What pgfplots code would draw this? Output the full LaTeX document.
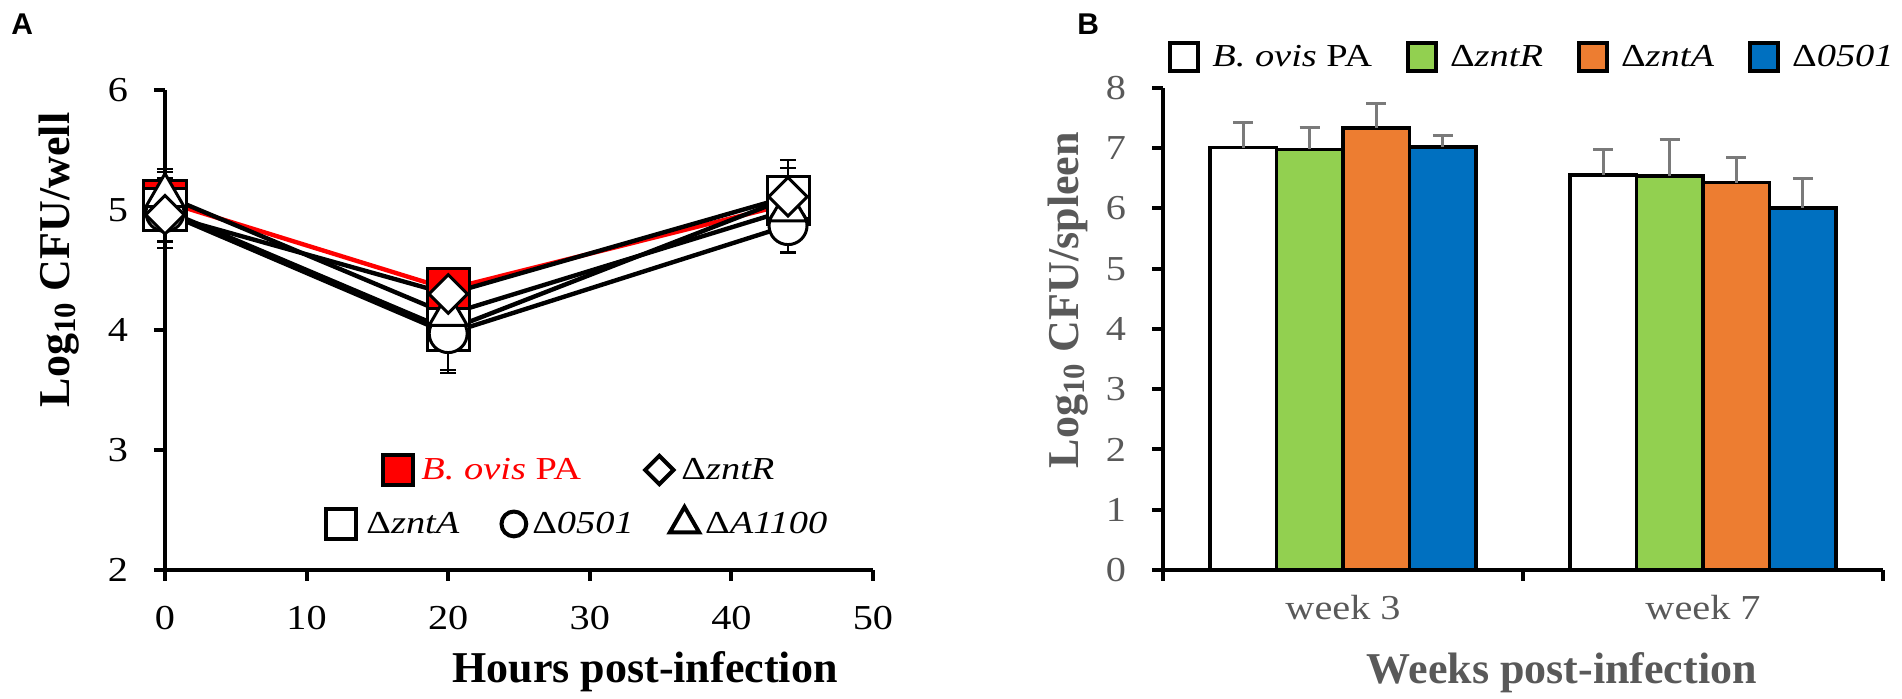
\documentclass[border=0pt]{standalone}
\usepackage{pgfplots}
\pgfplotsset{compat=1.18}
\usepackage{pgfplotstable}
\usepackage{fontspec}
\setmainfont{Liberation Serif}
\newfontfamily\tickf{Liberation Serif}[FakeStretch=1.15]
\newfontfamily\legf{Liberation Serif}[FakeStretch=1.2]
\newfontfamily\panelfont{Liberation Sans}
\definecolor{grn}{HTML}{92D050}
\definecolor{org}{HTML}{ED7D31}
\definecolor{blu}{HTML}{0070C0}
\definecolor{txtgray}{HTML}{595959}
\definecolor{errgray}{HTML}{7A7A7A}
\definecolor{pared}{HTML}{FF0000}

% Panel A: hours, log10 CFU/well, SD
\pgfplotstableread{
x y e
0 5.07 0.20
20 4.34 0.10
44 5.05 0.10
}\tPA
\pgfplotstableread{
x y e
0 4.96 0.22
20 4.30 0.10
44 5.11 0.10
}\tzntR
\pgfplotstableread{
x y e
0 5.00 0.32
20 4.00 0.33
44 5.10 0.32
}\tzntA
\pgfplotstableread{
x y e
0 4.98 0.25
20 3.97 0.33
44 4.87 0.23
}\tO
\pgfplotstableread{
x y e
0 5.12 0.22
20 4.13 0.10
44 5.00 0.35
}\tA
% Panel B: week groups at 0.5 and 1.5
\pgfplotstableread{
x y e
0.5 7.01 0.41
1.5 6.56 0.42
}\bPA
\pgfplotstableread{
x y e
0.5 6.98 0.37
1.5 6.54 0.61
}\bzntR
\pgfplotstableread{
x y e
0.5 7.34 0.40
1.5 6.43 0.42
}\bzntA
\pgfplotstableread{
x y e
0.5 7.02 0.19
1.5 6.01 0.48
}\bO

\pgfplotsset{
  common/.style={
    scale only axis,
    axis x line=bottom, axis y line=left,
    axis line style={-, line width=2pt},
    tick align=outside, major tick length=5.5pt,
    tick style={line width=2pt, black},
    ticklabel style={font=\tickf\fontsize{17.5}{20}\selectfont},
    xticklabel style={yshift=-9pt},
    yticklabel style={xshift=-9.5pt},
    /pgf/number format/assume math mode=true,
    clip=false,
  },
  aerr/.style={error bars/.cd, y dir=both, y explicit,
    error bar style={black, line width=1pt},
    error mark options={black, line width=1pt, mark size=4pt, rotate=90}},
}

\begin{document}
\begin{tikzpicture}
\path[use as bounding box] (0,0) rectangle (951pt,349.5pt);
\node[anchor=north west, inner sep=0pt, font=\panelfont\bfseries\fontsize{15}{15}\selectfont] at (5.5pt,343pt) {A};
\node[anchor=north west, inner sep=0pt, font=\panelfont\bfseries\fontsize{15}{15}\selectfont] at (538.5pt,343pt) {B};

% ---------------- Panel A ----------------
\begin{axis}[common,
  at={(82.5pt,64.5pt)}, anchor=south west,
  width=354pt, height=240pt,
  xmin=0, xmax=50, ymin=2, ymax=6,
  xtick={0,10,20,30,40,50}, ytick={2,3,4,5,6},
  xlabel={Hours post-infection},
  xlabel style={at={(axis description cs:0.678,-0.235)}, anchor=base, font=\bfseries\fontsize{22}{24}\selectfont},
  ylabel={Log\textsubscript{10} CFU/well},
  ylabel style={at={(axis description cs:-0.150,0.646)}, anchor=center, font=\bfseries\fontsize{22}{24}\selectfont},
  legend style={draw=none, fill=none, inner sep=0pt, at={(axis description cs:0.2274,0.098)}, anchor=west,
    font=\legf\fontsize{16}{18}\selectfont, nodes={inner sep=0pt},
    /tikz/column 1/.style={column sep=5pt},
    /tikz/column 2/.style={column sep=21pt},
    /tikz/column 3/.style={column sep=3pt},
    /tikz/column 4/.style={column sep=18pt},
    /tikz/column 5/.style={column sep=3pt}},
  legend columns=3, legend cell align=left,
]
\addplot[forget plot, pared, line width=2.2pt, mark=square*, mark size=10.5pt,
  mark options={fill=pared, draw=black, line width=1.5pt, solid}, aerr]
  table[x=x, y=y, y error=e]{\tPA};
\addplot[forget plot, black, line width=2.2pt, mark=square*, mark size=10.5pt,
  mark options={fill=white, draw=black, line width=1.5pt, solid}, aerr]
  table[x=x, y=y, y error=e]{\tzntA};
\addplot[forget plot, black, line width=2.2pt, mark=*, mark size=9.5pt,
  mark options={fill=white, draw=black, line width=1.5pt, solid}, aerr]
  table[x=x, y=y, y error=e]{\tO};
\addplot[forget plot, black, line width=2.2pt, mark=triangle*, mark size=11pt,
  mark options={fill=white, draw=black, line width=1.5pt, solid}, aerr]
  table[x=x, y=y, y error=e]{\tA};
\addplot[forget plot, black, line width=2.2pt, mark=square*, mark size=6.8pt,
  mark options={fill=white, draw=black, line width=1.5pt, solid, rotate=45}, aerr]
  table[x=x, y=y, y error=e]{\tzntR};
\addlegendimage{only marks, mark=square, mark size=7.5pt, mark options={draw=black, line width=2pt}}
\addlegendentry{Δ\textit{zntA}}
\addlegendimage{only marks, mark=o, mark size=6.2pt, mark options={draw=black, line width=2pt}}
\addlegendentry{Δ\textit{0501}}
\addlegendimage{only marks, mark=triangle, mark size=8.5pt, mark options={draw=black, line width=2pt}}
\addlegendentry{Δ\textit{A1100}}
\end{axis}

% legend row 1 of panel A
\begin{axis}[
  at={(82.5pt,64.5pt)}, anchor=south west, scale only axis,
  width=354pt, height=240pt, hide axis,
  xmin=0, xmax=50, ymin=2, ymax=6,
  legend style={draw=none, fill=none, inner sep=0pt, at={(axis description cs:0.308,0.2083)}, anchor=west,
    font=\legf\fontsize{16}{18}\selectfont, nodes={inner sep=0pt},
    /tikz/column 1/.style={column sep=4pt},
    /tikz/column 2/.style={column sep=32pt},
    /tikz/column 3/.style={column sep=4pt}},
  legend columns=2, legend cell align=left,
]
\addlegendimage{only marks, mark=square*, mark size=7.5pt, mark options={fill=pared, draw=black, line width=2pt}}
\addlegendentry{\textcolor{pared}{\textit{B. ovis} PA}}
\addlegendimage{only marks, mark=square, mark size=5pt, mark options={draw=black, line width=2pt, rotate=45}}
\addlegendentry{Δ\textit{zntR}}
\end{axis}

% ---------------- Panel B ----------------
\begin{axis}[common,
  at={(581.5pt,64.5pt)}, anchor=south west,
  width=360pt, height=241pt,
  xmin=0, xmax=2, ymin=0, ymax=8,
  ytick={0,1,2,3,4,5,6,7,8},
  yticklabel style={text=txtgray},
  xtick={0,1,2}, xticklabels={,,},
  extra x ticks={0.5,1.5}, extra x tick labels={week 3,week 7},
  extra x tick style={major tick length=0pt, ticklabel style={text=txtgray}},
  ybar, bar width=0.185,
  xlabel={Weeks post-infection},
  xlabel style={at={(axis description cs:0.554,-0.235)}, anchor=base, text=txtgray, font=\bfseries\fontsize{22}{24}\selectfont},
  ylabel={Log\textsubscript{10} CFU/spleen},
  ylabel style={at={(axis description cs:-0.132,0.560)}, anchor=center, text=txtgray, font=\bfseries\fontsize{22}{24}\selectfont},
  legend image code/.code={\draw[#1, line width=2pt] (0pt,-7pt) rectangle (14pt,7pt);},
  legend style={draw=none, fill=none, inner sep=0pt, at={(axis description cs:0.0069,1.064)}, anchor=west,
    font=\legf\fontsize{16}{18}\selectfont, nodes={inner sep=0pt},
    /tikz/every odd column/.append style={column sep=6pt},
    /tikz/every even column/.append style={column sep=17pt}},
  legend columns=4, legend cell align=left,
  error bars/y dir=plus, error bars/y explicit,
  error bars/error bar style={errgray, line width=1.5pt},
  error bars/error mark options={errgray, line width=1.5pt, mark size=5pt, rotate=90},
]
\addplot[draw=black, fill=white, line width=1.8pt, bar shift=-0.2775] table[x=x, y=y, y error=e]{\bPA};
\addlegendentry{\textit{B. ovis} PA}
\addplot[draw=black, fill=grn, line width=1.8pt, bar shift=-0.0925] table[x=x, y=y, y error=e]{\bzntR};
\addlegendentry{Δ\textit{zntR}}
\addplot[draw=black, fill=org, line width=1.8pt, bar shift=0.0925] table[x=x, y=y, y error=e]{\bzntA};
\addlegendentry{Δ\textit{zntA}}
\addplot[draw=black, fill=blu, line width=1.8pt, bar shift=0.2775] table[x=x, y=y, y error=e]{\bO};
\addlegendentry{Δ\textit{0501}}
\end{axis}
\end{tikzpicture}
\end{document}
